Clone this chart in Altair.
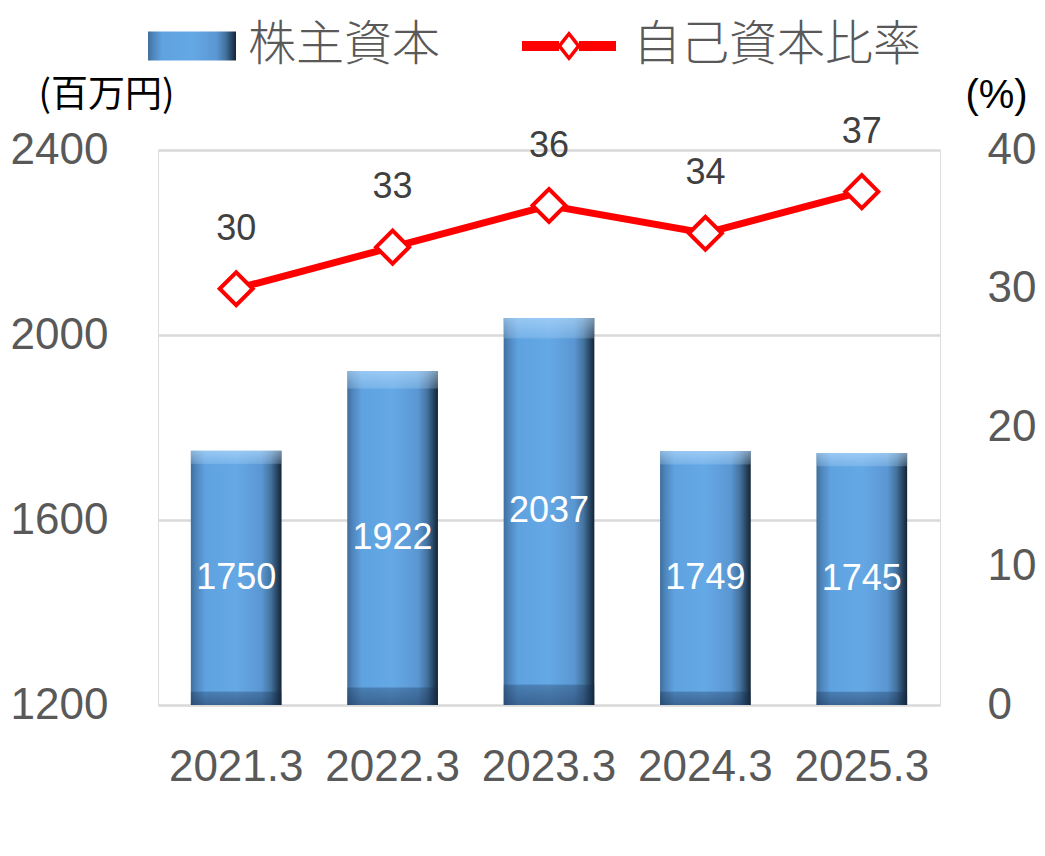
import altair as alt
import pandas as pd

years = ["2021.3", "2022.3", "2023.3", "2024.3", "2025.3"]
equity = [1750, 1922, 2037, 1749, 1745]
ratio = [30, 33, 36, 34, 37]

df = pd.DataFrame({
    "year": years,
    "equity": equity,
    "ratio": ratio,
    "s1": ["株主資本"] * len(years),
    "s2": ["自己資本比率"] * len(years),
})

AXF = "Liberation Sans, sans-serif"
NUM = "Liberation Sans, sans-serif"
JP = "Noto Sans CJK JP"
AX_COLOR = "#595959"

grad_h = alt.Gradient(
    gradient="linear", x1=0, x2=1, y1=0, y2=0,
    stops=[
        alt.GradientStop(color="#3f6f9c", offset=0),
        alt.GradientStop(color="#4f86bd", offset=0.06),
        alt.GradientStop(color="#5fa2e0", offset=0.16),
        alt.GradientStop(color="#65a8e6", offset=0.5),
        alt.GradientStop(color="#5a97d2", offset=0.78),
        alt.GradientStop(color="#44739f", offset=0.88),
        alt.GradientStop(color="#274563", offset=0.95),
        alt.GradientStop(color="#142434", offset=1),
    ],
)
grad_v = alt.Gradient(
    gradient="linear", x1=0, x2=0, y1=0, y2=1,
    stops=[
        alt.GradientStop(color="rgba(190,225,255,0.6)", offset=0),
        alt.GradientStop(color="rgba(190,225,255,0.25)", offset=0.05),
        alt.GradientStop(color="rgba(190,225,255,0)", offset=0.055),
        alt.GradientStop(color="rgba(20,40,70,0)", offset=0.945),
        alt.GradientStop(color="rgba(20,40,70,0.3)", offset=0.95),
        alt.GradientStop(color="rgba(20,40,70,0.5)", offset=1),
    ],
)

x_enc = alt.X(
    "year:N", sort=years,
    scale=alt.Scale(paddingInner=0.42, paddingOuter=0.21),
    axis=alt.Axis(title=None, labelAngle=0, labelFont=AXF, labelFontSize=44,
                  labelColor=AX_COLOR, labelPadding=40, domain=False, ticks=False),
)

left_axis = alt.Axis(
    values=[1200, 1600, 2000, 2400], format="d", title="(百万円)", titleAngle=0,
    titleX=-52, titleY=-55, titleAlign="center", titleBaseline="middle",
    titleFont=JP, titleFontSize=37, titleFontWeight="normal", titleColor="#000000",
    labelFont=AXF, labelFontSize=44, labelColor=AX_COLOR, labelPadding=50,
    grid=True, gridColor="#d9d9d9", gridWidth=2.5, domain=False, ticks=False,
)
left_scale = alt.Scale(domain=[1200, 2400], zero=False, nice=False)

right_axis = alt.Axis(
    orient="right", values=[0, 10, 20, 30, 40], format="d", title="(%)", titleAngle=0,
    titleX=56, titleY=-55, titleAlign="center", titleBaseline="middle",
    titleFont=NUM, titleFontSize=40, titleFontWeight="normal", titleColor="#000000",
    labelFont=AXF, labelFontSize=44, labelColor=AX_COLOR, labelPadding=47,
    grid=False, domain=False, ticks=False,
)
right_scale = alt.Scale(domain=[0, 40], nice=False, zero=True)

base = alt.Chart(df)

BAR_SYM = "M-2.2,-0.73H2.2V0.73H-2.2Z"
LINE_SYM = ("M-2.35,-0.25H-0.5V0.25H-2.35Z M0.5,-0.25H2.35V0.25H0.5Z "
            "M0,-0.75L0.6,0L0,0.75L-0.6,0Z M0,-0.47L-0.37,0L0,0.47L0.37,0Z")

bars = base.mark_bar(color=grad_h).encode(
    x=x_enc,
    y=alt.Y("equity:Q", scale=left_scale, axis=left_axis),
    y2=alt.datum(1200),
    opacity=alt.Opacity(
        "s1:N", scale=alt.Scale(range=[1, 1]),
        legend=alt.Legend(
            title=None, orient="none", legendX=10, legendY=-128,
            symbolType=BAR_SYM, symbolSize=1600, symbolStrokeWidth=0,
            labelFont=JP, labelFontSize=48, labelFontWeight=300, labelColor=AX_COLOR,
            labelOffset=32, labelLimit=500, padding=0,
        ),
    ),
)

bevel = base.mark_bar(color=grad_v).encode(
    x=x_enc,
    y=alt.Y("equity:Q", scale=left_scale, axis=left_axis),
    y2=alt.datum(1200),
)

bar_labels = base.transform_calculate(mid="(datum.equity + 1200) / 2").mark_text(
    color="white", font=NUM, fontSize=36, baseline="middle"
).encode(
    x=x_enc,
    y=alt.Y("mid:Q", scale=left_scale, axis=left_axis),
    text=alt.Text("equity:Q"),
)

line = base.mark_line(strokeWidth=7).encode(
    x=x_enc,
    y=alt.Y("ratio:Q", scale=right_scale, axis=right_axis),
    stroke=alt.Stroke(
        "s2:N", scale=alt.Scale(range=["#ff0000"]),
        legend=alt.Legend(
            title=None, orient="none", legendX=387, legendY=-128,
            symbolType=LINE_SYM, symbolSize=1600, symbolFillColor="#ff0000",
            symbolStrokeWidth=0,
            labelFont=JP, labelFontSize=48, labelFontWeight=300, labelColor=AX_COLOR,
            labelOffset=40, labelLimit=500, padding=0,
        ),
    ),
)

points = base.mark_point(
    shape="diamond", fill="white", stroke="#ff0000", strokeWidth=4,
    size=1090, opacity=1, fillOpacity=1,
).encode(
    x=x_enc,
    y=alt.Y("ratio:Q", scale=right_scale, axis=right_axis),
)

line_labels = base.mark_text(
    dy=-60, font=NUM, fontSize=36, color="#404040", baseline="middle"
).encode(
    x=x_enc,
    y=alt.Y("ratio:Q", scale=right_scale, axis=right_axis),
    text=alt.Text("ratio:Q"),
)

left_layer = alt.layer(bars, bevel, bar_labels)
right_layer = alt.layer(line, points, line_labels)

chart = alt.layer(left_layer, right_layer).resolve_scale(
    y="independent"
).properties(
    width=782, height=555,
    autosize=alt.AutoSizeParams(type="none"),
    padding={"left": 150, "top": 142, "right": 97, "bottom": 141},
).configure_view(stroke=None).configure(background="white")

chart.save("out.html", embed_options={"renderer": "svg", "actions": False})
